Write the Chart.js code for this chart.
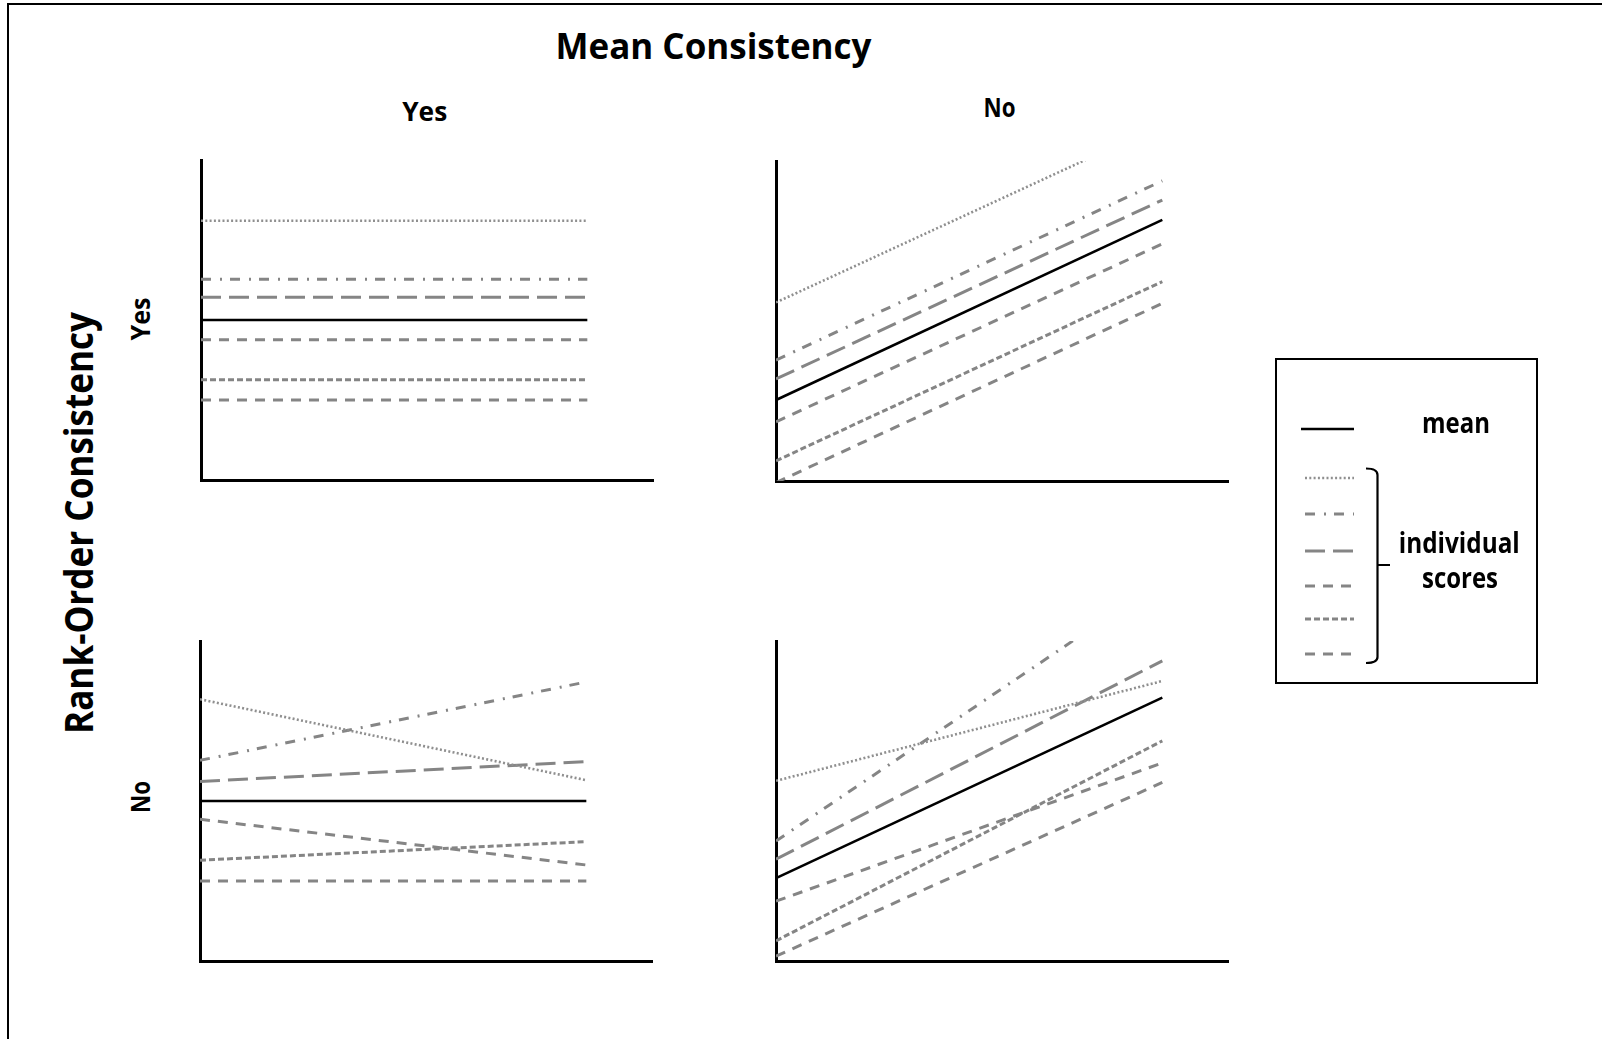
<!DOCTYPE html>
<html>
<head>
<meta charset="utf-8">
<title>Mean and Rank-Order Consistency</title>
<script src="https://cdn.jsdelivr.net/npm/chart.js@4.4.1/dist/chart.umd.min.js"></script>
<style>
  html, body { margin:0; padding:0; background:#fff; }
  body { width:1602px; height:1039px; position:relative; overflow:hidden; font-family: 'Open Sans', Lato, sans-serif; }
  #frame { position:absolute; left:7px; top:3px; width:1700px; height:1100px; border-left:2px solid #000; border-top:2px solid #000; }
  canvas { position:absolute; }
  .lbl { position:absolute; left:0; top:0; white-space:nowrap; font-weight:bold; color:#000; line-height:1; transform-origin:0 0; }
  #legendBox { position:absolute; left:1275px; top:358px; width:263px; height:326px; border:2px solid #000; box-sizing:border-box; }
</style>
</head>
<body>
<div id="frame"></div>
<div id="legendBox"></div>
<canvas id="legendMarks" width="263" height="326" style="left:1275px;top:358px"></canvas>

<script>
// ---- data ----
var timePoints = [0, 1];
var seriesNames = ['mean', 'score 1', 'score 2', 'score 3', 'score 4', 'score 5', 'score 6'];

// rank-order yes / mean yes
var yesYesStart = [50, 81, 62.7, 57.1, 43.8, 31.3, 25];
var yesYesEnd   = [50, 81, 62.7, 57.1, 43.8, 31.3, 25];
// rank-order yes / mean no
var yesNoStart  = [25.3, 55.8, 37.8, 31.9, 18.5, 6.3, -0.5];
var yesNoEnd    = [81.6, 111.4, 93.8, 87.8, 74.1, 62.3, 55.5];
// rank-order no / mean yes
var noYesStart  = [50, 81.8, 62.7, 56.1, 44.3, 31.5, 25];
var noYesEnd    = [50, 56.5, 87.2, 62.3, 30, 37.3, 25];
// rank-order no / mean no
var noNoStart   = [25.9, 56.3, 37.5, 31.8, 18.7, 6.3, 1.5];
var noNoEnd     = [82.3, 87.5, 118.9, 93.8, 61.9, 68.8, 55.8];

var colLabels = ['Yes', 'No'];
var rowLabels = ['Yes', 'No'];
var legendLabels = ['mean', 'individual', 'scores'];

// ---- styles ----
var seriesColors = ['#000000', '#8f8f8f', '#858585', '#858585', '#858585', '#858585', '#858585'];
var seriesWidths = [2.6, 2.6, 3, 3, 3, 3, 3];
var seriesDashes = [[], [2, 2.3], [10, 9, 2, 8], [20, 8], [10, 8], [6, 3], [10, 8]];

var panels = [
  {left: 201, top: 160, start: yesYesStart, end: yesYesEnd},
  {left: 776, top: 161, start: yesNoStart,  end: yesNoEnd},
  {left: 200, top: 641, start: noYesStart,  end: noYesEnd},
  {left: 776, top: 641, start: noNoStart,   end: noNoEnd}
];
var panelW = 452, panelH = 320, xMax = 1.17, pad = 6;

function makePanel(p) {
  var c = document.createElement('canvas');
  c.width = panelW + 2 * pad;
  c.height = panelH + 2 * pad;
  c.style.left = (p.left - pad) + 'px';
  c.style.top = (p.top - pad) + 'px';
  document.body.appendChild(c);

  var axis = {
    grid: {display: false, drawTicks: false},
    ticks: {display: false},
    border: {color: '#000', width: 3}
  };
  new Chart(c, {
    type: 'line',
    data: {
      datasets: seriesNames.map(function(name, i) {
        return {
          label: name,
          data: timePoints.map(function(t, j) { return {x: t, y: j === 0 ? p.start[i] : p.end[i]}; }),
          borderColor: seriesColors[i],
          borderWidth: seriesWidths[i],
          borderDash: seriesDashes[i],
          borderCapStyle: 'butt',
          pointRadius: 0,
          tension: 0,
          fill: false
        };
      })
    },
    options: {
      responsive: false,
      animation: false,
      devicePixelRatio: 1,
      layout: {padding: pad},
      plugins: {legend: {display: false}, tooltip: {enabled: false}},
      scales: {
        x: Object.assign({type: 'linear', min: 0, max: xMax}, axis),
        y: Object.assign({type: 'linear', min: 0, max: 100}, axis)
      }
    }
  });
}
panels.forEach(makePanel);

// ---- legend marks ----
(function() {
  var ctx = document.getElementById('legendMarks').getContext('2d');
  ctx.translate(-1275, -358);
  var rowsY = [429, 478, 514, 551, 586, 619, 654];
  for (var i = 0; i < seriesNames.length; i++) {
    ctx.beginPath();
    ctx.setLineDash(seriesDashes[i]);
    ctx.strokeStyle = seriesColors[i];
    ctx.lineWidth = seriesWidths[i];
    ctx.moveTo(i === 0 ? 1301 : 1305, rowsY[i]);
    ctx.lineTo(1354, rowsY[i]);
    ctx.stroke();
  }
  // bracket
  ctx.setLineDash([]);
  ctx.strokeStyle = '#000';
  ctx.lineWidth = 2.2;
  ctx.beginPath();
  ctx.moveTo(1366, 468.5);
  ctx.quadraticCurveTo(1377.5, 468.5, 1377.5, 475);
  ctx.lineTo(1377.5, 657);
  ctx.quadraticCurveTo(1377.5, 663, 1366, 663);
  ctx.moveTo(1377.5, 565);
  ctx.lineTo(1390, 565);
  ctx.stroke();
})();

// ---- text ----
function placeLabel(text, o) {
  var el = document.createElement('div');
  el.className = 'lbl';
  el.style.fontSize = o.size + 'px';
  el.textContent = text;
  var mark = document.createElement('span');
  mark.style.cssText = 'display:inline-block;width:0;height:0;vertical-align:baseline';
  el.appendChild(mark);
  document.body.appendChild(el);
  var r = el.getBoundingClientRect();
  var b = mark.getBoundingClientRect().top - r.top;
  var k = o.width / r.width;
  if (o.rotate) {
    el.style.transform = 'translate(' + o.base + 'px,' + (o.center + o.width / 2) + 'px) rotate(-90deg) scaleX(' + k + ') translate(0px,' + (-b) + 'px)';
  } else {
    el.style.transform = 'translate(' + (o.center - o.width / 2) + 'px,' + o.base + 'px) scaleX(' + k + ') translate(0px,' + (-b) + 'px)';
  }
}

placeLabel('Mean Consistency', {size: 36, center: 713.5, base: 58.5, width: 316});
placeLabel(colLabels[0], {size: 27, center: 424.7, base: 120.7, width: 45});
placeLabel(colLabels[1], {size: 27, center: 999.5, base: 117.3, width: 32});
placeLabel('Rank-Order Consistency', {size: 39, center: 523, base: 93, width: 422, rotate: true});
placeLabel(rowLabels[0], {size: 27, center: 319, base: 150, width: 43, rotate: true});
placeLabel(rowLabels[1], {size: 27, center: 797, base: 150, width: 32, rotate: true});
placeLabel(legendLabels[0], {size: 28, center: 1456, base: 433.3, width: 68});
placeLabel(legendLabels[1], {size: 28, center: 1459.3, base: 553.3, width: 121});
placeLabel(legendLabels[2], {size: 28, center: 1460, base: 588.3, width: 76});
</script>
</body>
</html>
